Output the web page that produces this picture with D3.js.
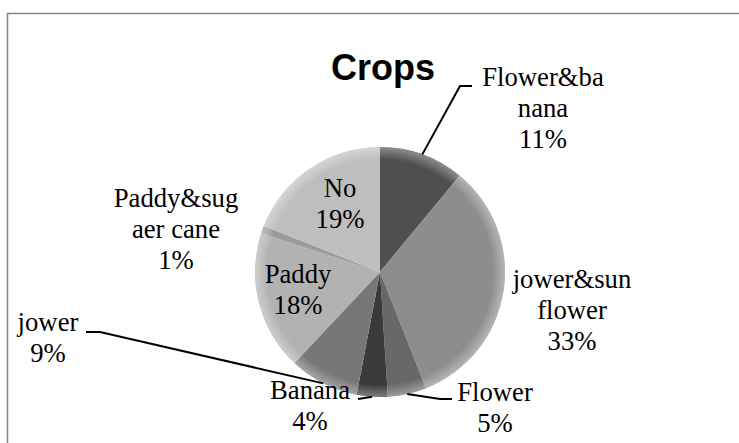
<!DOCTYPE html>
<html>
<head>
<meta charset="utf-8">
<script src="https://cdn.jsdelivr.net/npm/d3@7"></script>
<style>
  body { margin: 0; background: #fff; }
  svg { display: block; }
</style>
</head>
<body>
<div id="chart"></div>
<script>
var crops = ["Flower&banana", "jower&sunflower", "Flower", "Banana", "jower", "Paddy", "Paddy&sugaer cane", "No"];
var percents = [11, 33, 5, 4, 9, 18, 1, 19];
var labelLines = [
    ["Flower&ba", "nana", "11%"],
    ["jower&sun", "flower", "33%"],
    ["Flower", "5%"],
    ["Banana", "4%"],
    ["jower", "9%"],
    ["Paddy", "18%"],
    ["Paddy&sug", "aer cane", "1%"],
    ["No", "19%"]
];
var sliceColors = ["#4f4f4f", "#8d8d8d", "#686868", "#3a3a3a", "#777777", "#b2b2b2", "#9b9b9b", "#bebebe"];

// where each label sits: centre x, first baseline, and elbow of the leader (if any)
var labelPos = [
    {x: 543, y: 86, line: [[460, 86], [472, 86]]},
    {x: 572, y: 288},
    {x: 495, y: 401, line: [[440, 399], [452, 399]]},
    {x: 310, y: 399, line: [[358, 399]]},
    {x: 48, y: 331, line: [[100, 332], [86, 332]]},
    {x: 298, y: 283},
    {x: 176, y: 207},
    {x: 340, y: 197}
];

var width = 739, height = 443;
var cx = 380, cy = 272, radius = 125;

var svg = d3.select("#chart")
    .append("svg")
    .attr("width", width)
    .attr("height", height);

// chart frame
svg.append("rect")
    .attr("x", 7.5)
    .attr("y", 13.5)
    .attr("width", 760)
    .attr("height", 460)
    .attr("fill", "white")
    .attr("stroke", "#868686")
    .attr("stroke-width", 1.5);

svg.append("text")
    .attr("x", 383)
    .attr("y", 80)
    .attr("text-anchor", "middle")
    .style("font-family", "'Liberation Sans'")
    .style("font-weight", "bold")
    .style("font-size", "36px")
    .text("Crops");

var defs = svg.append("defs");
var rim = defs.append("radialGradient").attr("id", "rim");
rim.append("stop").attr("offset", "0.9").attr("stop-color", "white").attr("stop-opacity", 0);
rim.append("stop").attr("offset", "1").attr("stop-color", "white").attr("stop-opacity", 0.35);

var pie = d3.pie().sort(null).value(function(d) { return d; });
var arcs = pie(percents);
var arc = d3.arc().innerRadius(0).outerRadius(radius);
var edge = d3.arc().innerRadius(radius).outerRadius(radius);

var g = svg.append("g")
    .attr("transform", "translate(" + cx + "," + cy + ")");

g.selectAll("path.slice")
    .data(arcs)
    .enter()
    .append("path")
    .attr("class", "slice")
    .attr("d", arc)
    .attr("fill", function(d, i) { return sliceColors[i]; });

g.append("circle")
    .attr("r", radius)
    .attr("fill", "url(#rim)");

// leader lines from the slice edge to the label
arcs.forEach(function(d, i) {
    var p = labelPos[i];
    if (!p.line) return;
    var c = edge.centroid(d);
    var pts = [[c[0] + cx, c[1] + cy]].concat(p.line);
    svg.append("path")
        .attr("d", d3.line()(pts))
        .attr("fill", "none")
        .attr("stroke", "black")
        .attr("stroke-width", 2);
});

labelLines.forEach(function(lines, i) {
    var p = labelPos[i];
    var t = svg.append("text")
        .attr("text-anchor", "middle")
        .style("font-family", "'Liberation Serif'")
        .style("font-size", "26.7px")
        .attr("fill", "black");
    lines.forEach(function(s, k) {
        t.append("tspan")
            .attr("x", p.x)
            .attr("y", p.y + k * 31)
            .text(s);
    });
});
</script>
</body>
</html>
